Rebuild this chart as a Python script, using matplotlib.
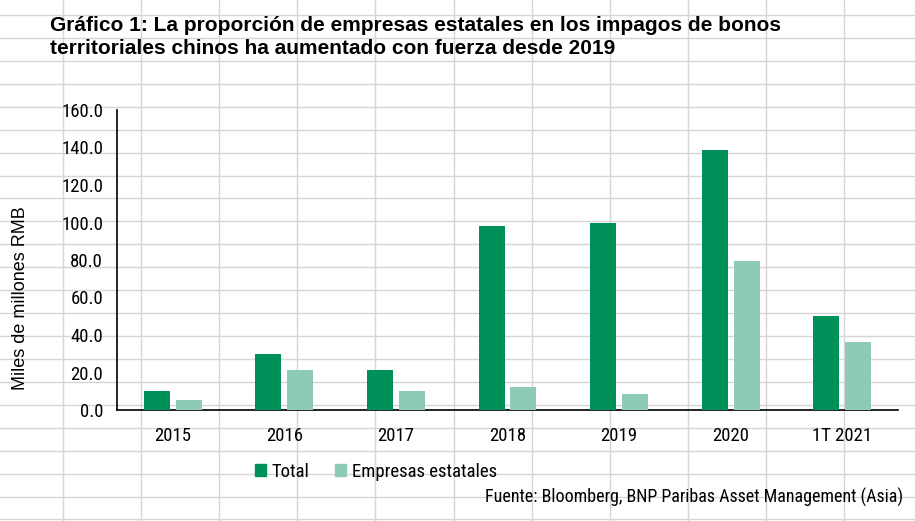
import numpy as np
import matplotlib
matplotlib.use("Agg")
import matplotlib.pyplot as plt
from matplotlib.lines import Line2D
from matplotlib.patches import Patch

# Arial Narrow is not available; Roboto Condensed is the nearest narrow face
plt.rcParams['font.family'] = ['Roboto Condensed', 'Liberation Sans', 'DejaVu Sans']
arial = ['Liberation Sans', 'DejaVu Sans']

categories = ['2015', '2016', '2017', '2018', '2019', '2020', '1T 2021']
total = [10.1, 29.9, 21.3, 98.2, 99.9, 138.7, 50.1]
empresas = [5.2, 21.3, 10.1, 12.3, 8.6, 79.5, 36.3]
yticks = [0, 20, 40, 60, 80, 100, 120, 140, 160]

title = ("Gráfico 1: La proporción de empresas estatales en los impagos de bonos\n"
         "territoriales chinos ha aumentado con fuerza desde 2019")
source = "Fuente: Bloomberg, BNP Paribas Asset Management (Asia)"

c_total = '#00905a'
c_soe = '#8dcab8'

W, H = 915, 521
fig = plt.figure(figsize=(W / 100, H / 100), dpi=100)

# spreadsheet cell grid behind the chart
for x in np.arange(63 - 78.1, W + 1, 78.1):
    fig.add_artist(Line2D([x / W, x / W], [0, 1], color='#d6d6d6', lw=1, zorder=0))
for y in np.arange(15, H + 1, 22.93):
    fig.add_artist(Line2D([0, 1], [1 - y / H, 1 - y / H], color='#d6d6d6', lw=1, zorder=0))

ax = fig.add_axes([117 / W, (H - 410) / H, 781 / W, 300 / H])
ax.patch.set_alpha(0)

x = np.arange(len(categories))
bw = 0.233
ax.bar(x - 0.143, total, bw, color=c_total, label='Total', zorder=3)
ax.bar(x + 0.143, empresas, bw, color=c_soe, label='Empresas estatales', zorder=3)

ax.set_xlim(-0.5, len(categories) - 0.5)
ax.set_ylim(0, 160)
ax.set_yticks(yticks)
ax.set_yticklabels([f'{v:.1f}' for v in yticks])
ax.set_xticks(x)
ax.set_xticklabels(categories)
ax.tick_params(axis='both', length=0, labelsize=13.5, colors='#000000')
ax.tick_params(axis='y', pad=10)
ax.tick_params(axis='x', pad=12)
for s in ['top', 'right']:
    ax.spines[s].set_visible(False)
ax.spines['left'].set_linewidth(1.2)
ax.spines['bottom'].set_linewidth(1.2)

fig.text(21 / W, 1 - 298 / H, 'Miles de millones RMB', rotation=90,
         ha='center', va='center', fontsize=13, family=arial)

fig.text(50 / W, 1 - 16 / H, title, ha='left', va='top', fontsize=15,
         fontweight='bold', linespacing=1.25, family=arial)

handles = [Patch(color=c_total), Patch(color=c_soe)]
fig.legend(handles, ['Total', 'Empresas estatales'], loc='center left',
           bbox_to_anchor=(255 / W, 1 - 472 / H), ncol=2, frameon=False,
           fontsize=13.5, handlelength=0.6, handleheight=0.6, handletextpad=0.3,
           columnspacing=1.35, borderaxespad=0, borderpad=0)

fig.text(903 / W, 1 - 497 / H, source, ha='right', va='center', fontsize=13)

fig.savefig('out.png', dpi=100, facecolor='white')
